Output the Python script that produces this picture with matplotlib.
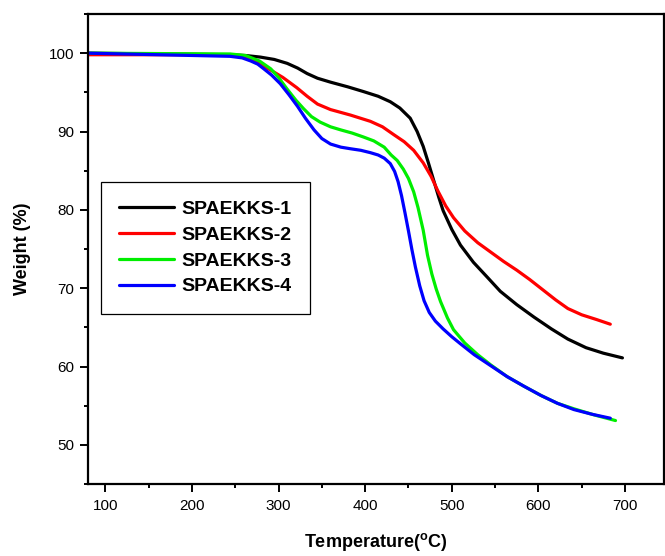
import numpy as np
import matplotlib.pyplot as plt
from matplotlib.ticker import MultipleLocator

plt.rcParams['font.family'] = ['Liberation Sans', 'DejaVu Sans']

# TGA curves, temperature (°C) vs residual weight (%)
t1 = [80, 244, 262, 279, 295, 310, 322, 333, 345, 360, 380, 398, 415, 429, 440, 452, 460, 467,
      473, 479, 485, 490, 500, 510, 525, 541, 556, 575, 595, 615, 634, 655, 675, 697]
w1 = [100, 99.8, 99.7, 99.5, 99.2, 98.7, 98.1, 97.4, 96.8, 96.3, 95.7, 95.1, 94.5, 93.8, 93.0, 91.7, 90.0, 88.1,
      86.0, 83.8, 81.6, 79.9, 77.5, 75.5, 73.3, 71.4, 69.6, 67.9, 66.3, 64.8, 63.5, 62.4, 61.7, 61.1]

t2 = [80, 244, 262, 275, 290, 305, 321, 333, 345, 360, 383, 406, 420, 433, 445, 456, 467, 476, 484,
      493, 502, 515, 530, 545, 560, 575, 590, 605, 620, 634, 650, 667, 683]
w2 = [99.8, 99.8, 99.4, 98.9, 97.9, 96.9, 95.6, 94.5, 93.5, 92.8, 92.1, 91.3, 90.6, 89.6, 88.7, 87.6, 86.0, 84.3, 82.4,
      80.5, 79.0, 77.3, 75.8, 74.6, 73.4, 72.3, 71.1, 69.8, 68.5, 67.4, 66.6, 66.0, 65.4]

t3 = [80, 244, 262, 278, 291, 300, 310, 320, 329, 338, 348, 360, 372, 385, 398, 410, 422, 430, 437, 444,
      450, 456, 461, 467, 472, 477, 482, 487, 495, 502, 515, 530, 545, 564, 583, 603, 622, 641, 665, 689]
w3 = [100, 99.9, 99.7, 99.0, 98.0, 96.9, 95.4, 94.0, 92.9, 91.9, 91.2, 90.6, 90.2, 89.8, 89.3, 88.8, 88.0, 87.0, 86.3, 85.2,
      84.0, 82.3, 80.3, 77.4, 74.2, 71.8, 69.9, 68.3, 66.2, 64.7, 63.0, 61.5, 60.2, 58.7, 57.5, 56.3, 55.3, 54.6, 53.8, 53.1]

t4 = [80, 244, 258, 268, 276, 283, 292, 302, 312, 322, 331, 341, 350, 360, 372, 383, 395, 406, 415, 422,
      429, 434, 438, 442, 446, 450, 454, 458, 463, 468, 474, 481, 490, 500, 510, 526, 545, 564, 583, 603,
      622, 641, 662, 683]
w4 = [100, 99.6, 99.4, 99.0, 98.6, 98.0, 97.2, 96.1, 94.7, 93.2, 91.7, 90.2, 89.1, 88.4, 88.0, 87.8, 87.6, 87.3, 87.0, 86.6,
      85.9, 84.9, 83.6, 81.8, 79.6, 77.3, 74.9, 72.7, 70.3, 68.4, 66.9, 65.8, 64.8, 63.8, 62.9, 61.5, 60.1, 58.7, 57.5, 56.3,
      55.3, 54.5, 53.9, 53.4]

labels = ['SPAEKKS-1', 'SPAEKKS-2', 'SPAEKKS-3', 'SPAEKKS-4']
colors = ['#000000', '#ff0000', '#00ee00', '#0000ff']

fig = plt.figure(figsize=(6.65, 5.56), dpi=100)
ax = fig.add_axes([0.1323, 0.1295, 0.8662, 0.8453])

for t, w, lab, c in zip([t1, t2, t3, t4], [w1, w2, w3, w4], labels, colors):
    ax.plot(t, w, color=c, lw=2.3, label=lab, solid_capstyle='round', solid_joinstyle='round')

ax.set_xlim(80, 745)
ax.set_ylim(45, 105)
ax.xaxis.set_major_locator(MultipleLocator(100))
ax.xaxis.set_minor_locator(MultipleLocator(50))
ax.yaxis.set_major_locator(MultipleLocator(10))
ax.yaxis.set_minor_locator(MultipleLocator(5))
ax.tick_params(which='major', direction='out', length=6, width=1.4, labelsize=11)
ax.tick_params(axis='x', which='major', pad=5)
ax.tick_params(axis='y', which='major', pad=4)
ax.tick_params(which='minor', direction='out', length=3, width=1.4)
for s in ax.spines.values():
    s.set_linewidth(1.6)

ax.set_xlabel('Temperature($\\mathregular{^oC}$)', fontsize=13, fontweight='bold', labelpad=13)
ax.set_ylabel('Weight (%)', fontsize=13, fontweight='bold', labelpad=13)

leg = ax.legend(loc='upper left', bbox_to_anchor=(0.0226, 0.6426), borderaxespad=0,
                fancybox=False, edgecolor='black', framealpha=1,
                prop={'weight': 'bold', 'size': 14}, handlelength=2.8,
                handletextpad=0.4, labelspacing=0.42, borderpad=0.95)
leg.get_frame().set_linewidth(0.9)

fig.savefig('out.png', dpi=100)
